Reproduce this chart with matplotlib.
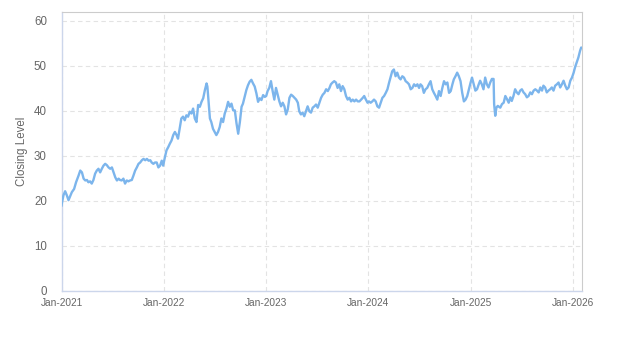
import matplotlib
matplotlib.use("Agg")
import matplotlib.pyplot as plt
import matplotlib.dates as mdates
import pandas as pd

# Series start date; each observation is given as a day offset from it
start_date = "2021-01-01"

day_offsets = [
    0, 1, 7, 13, 19, 25, 31, 37, 45, 52, 61, 67, 73, 79, 85, 91, 96, 102, 108, 114,
    120, 126, 132, 138, 144, 150, 156, 162, 168, 174, 180, 186, 192, 198, 204, 209,
    215, 221, 227, 233, 239, 245, 251, 257, 263, 269, 275, 281, 287, 293, 299, 305,
    311, 317, 322, 328, 334, 340, 346, 352, 358,
    363, 369, 375, 381, 387, 393, 399, 405, 411, 416, 422, 428, 434, 440, 446, 452,
    458, 464, 470, 476, 482, 488, 494, 500, 506, 512, 518, 521, 526, 530, 535, 541,
    547, 553, 559, 565, 571, 577, 583, 589, 595, 601, 607, 613, 619, 625, 631, 637,
    643, 648, 654, 660, 666, 672, 678, 684, 690, 696, 702, 708, 714, 720, 726,
    731, 736, 742, 748, 754, 760, 766, 772, 778, 784, 790, 796, 802, 808, 814, 820,
    826, 832, 838, 844, 849, 855, 861, 867, 873, 879, 885, 891, 897, 903, 909, 915,
    921, 927, 933, 939, 945, 951, 957, 962, 968, 974, 980, 986, 992, 998, 1004, 1010,
    1016, 1022, 1028, 1034, 1040, 1046, 1052, 1058, 1064, 1070, 1076, 1081, 1087, 1093,
    1098, 1104, 1110, 1116, 1122, 1128, 1134, 1140, 1146, 1152, 1158, 1164, 1170, 1175,
    1181, 1187, 1193, 1199, 1205, 1211, 1217, 1223, 1229, 1235, 1241, 1247, 1253, 1259,
    1265, 1271, 1277, 1282, 1288, 1294, 1300, 1306, 1312, 1318, 1324, 1330, 1336, 1342,
    1348, 1354, 1360, 1366, 1372, 1378, 1384, 1390, 1396, 1401, 1407, 1413, 1419, 1425,
    1431, 1437, 1443, 1449, 1455, 1461,
    1466, 1472, 1478, 1484, 1490, 1495, 1501, 1507, 1513, 1519, 1525, 1531, 1537, 1543,
    1545, 1549, 1553, 1558, 1567, 1573, 1579, 1585, 1591, 1597, 1603, 1608, 1614, 1620,
    1626, 1632, 1638, 1644, 1650, 1656, 1662, 1668, 1674, 1680, 1686, 1692, 1698, 1704,
    1710, 1716, 1721, 1727, 1733, 1739, 1745, 1751, 1757, 1763, 1769, 1775, 1781, 1787,
    1793, 1799, 1805, 1811, 1817, 1823, 1829, 1834, 1840, 1846, 1852, 1856,
]

closing_level = [
    18.8, 19.3, 21.2, 22.1, 21.2, 20.1, 21.0, 21.9, 22.6, 24.1, 25.6, 26.7, 26.3, 24.9, 24.5, 24.6, 24.1, 24.3, 23.8, 24.6,
    26.0, 26.7, 27.1, 26.3, 27.1, 27.8, 28.2, 27.9, 27.4, 27.1, 27.4, 26.3, 25.2, 24.5, 24.9, 24.6,
    24.5, 24.9, 23.8, 24.5, 24.3, 24.5, 24.6, 25.6, 26.7, 27.4, 28.2, 28.5, 29.0, 29.3, 29.0, 29.3,
    28.9, 29.0, 28.5, 28.2, 28.5, 28.5, 27.4, 27.8, 28.9,
    27.8, 29.6, 31.2, 31.9, 32.7, 33.4, 34.6, 35.3, 34.6, 33.8, 36.0, 38.3, 38.7, 37.9, 39.0, 38.7,
    39.8, 39.4, 40.5, 38.3, 37.5, 41.3, 40.9, 42.0, 42.8, 44.6, 46.1, 45.4, 41.6, 38.3, 37.5, 36.0,
    35.3, 34.6, 35.3, 36.4, 38.3, 37.5, 39.4, 40.5, 42.0, 40.9, 41.6, 40.1, 40.1, 37.2, 34.9, 37.5,
    40.9, 41.6, 43.1, 44.6, 45.7, 46.5, 46.9, 46.1, 45.4, 43.9, 42.0, 42.8, 42.4, 43.5, 43.1,
    43.3, 44.4, 45.1, 46.6, 44.4, 42.5, 45.1, 43.6, 42.1, 41.0, 41.8, 41.0, 39.2, 40.3, 42.9, 43.6,
    43.3, 42.9, 42.5, 41.8, 39.9, 39.2, 39.6, 38.8, 39.9, 41.0, 39.9, 39.6, 40.7, 41.0, 41.4, 40.7,
    41.8, 42.9, 43.6, 44.0, 44.8, 44.4, 45.1, 45.9, 46.3, 46.6, 46.3, 45.1, 45.9, 44.4, 45.5, 44.8,
    43.3, 42.5, 42.9, 42.1, 42.5, 42.1, 42.5, 42.1, 42.1, 42.5, 42.9, 43.3, 42.5, 41.8,
    42.1, 41.8, 42.1, 42.5, 42.1, 41.0, 40.7, 41.8, 42.9, 43.3, 44.0, 44.8, 46.3, 47.4,
    48.8, 49.2, 47.7, 48.5, 47.4, 47.0, 47.7, 47.4, 46.6, 46.3, 45.9, 44.8, 45.1, 45.9,
    45.5, 45.9, 45.1, 45.9, 45.5, 44.0, 44.8, 45.1, 45.9, 46.6, 44.8, 44.0, 43.3, 42.5,
    44.4, 43.3, 45.1, 46.6, 45.9, 46.3, 44.0, 44.4, 45.9, 47.0, 47.7, 48.5, 47.7, 46.6,
    44.0, 42.1, 42.5, 43.3, 44.8, 46.3,
    47.4, 45.9, 44.5, 44.8, 45.9, 46.7, 45.9, 44.8, 47.4, 45.9, 45.2, 46.3, 47.1, 47.1,
    41.5, 38.9, 40.7, 41.1, 40.7, 41.5, 41.8, 43.3, 42.6, 41.8, 43.0, 42.2, 43.3, 44.8,
    44.1, 43.7, 44.5, 44.8, 44.1, 43.7, 43.0, 43.3, 44.1, 43.7, 44.5, 44.8, 44.5, 44.1,
    45.2, 44.5, 45.6, 45.2, 44.1, 44.5, 44.8, 45.2, 44.5, 45.6, 45.9, 46.3, 45.2, 45.9,
    46.7, 45.6, 44.8, 45.2, 46.7, 47.4, 48.5, 49.7, 50.8, 51.9, 53.4, 54.1,
]

y_ticks = [0, 10, 20, 30, 40, 50, 60]
x_tick_years = ["2021", "2022", "2023", "2024", "2025", "2026"]
y_label = "Closing Level"

dates = pd.Timestamp(start_date) + pd.to_timedelta(day_offsets, unit="D")

plt.rcParams["font.family"] = ["Liberation Sans", "DejaVu Sans"]

fig = plt.figure(figsize=(6.23, 3.5), dpi=100)
ax = fig.add_axes([61.5 / 623, 1 - 290.5 / 350, (581.5 - 61.5) / 623, (290.5 - 12) / 350])

ax.plot(dates, closing_level, color="#7cb5ec", linewidth=1.7,
        solid_joinstyle="round", solid_capstyle="round", zorder=3)

ax.set_xlim(pd.Timestamp("2021-01-01"), pd.Timestamp("2026-02-01"))
ax.set_ylim(0, 62)

ax.set_yticks(y_ticks)
ax.set_xticks([pd.Timestamp(f"{y}-01-01") for y in x_tick_years])
ax.xaxis.set_major_formatter(mdates.DateFormatter("%b-%Y"))

ax.grid(True, color="#e3e3e3", linestyle=(0, (4, 3)), linewidth=0.8, zorder=0)
ax.set_axisbelow(True)

ax.tick_params(axis="y", length=0, pad=10.5, labelsize=8.3, labelcolor="#666666")
ax.tick_params(axis="x", length=0, pad=5.5, labelsize=7.3, labelcolor="#666666")

for side in ("left", "bottom"):
    ax.spines[side].set_color("#ccd6eb")
    ax.spines[side].set_linewidth(1.0)
for side in ("top", "right"):
    ax.spines[side].set_color("#cccccc")
    ax.spines[side].set_linewidth(0.8)

fig.text(22 / 623, 1 - 151 / 350, y_label, rotation=90, ha="center", va="center",
         fontsize=8.3, color="#666666")

fig.savefig("out.png", dpi=100, facecolor="white")
